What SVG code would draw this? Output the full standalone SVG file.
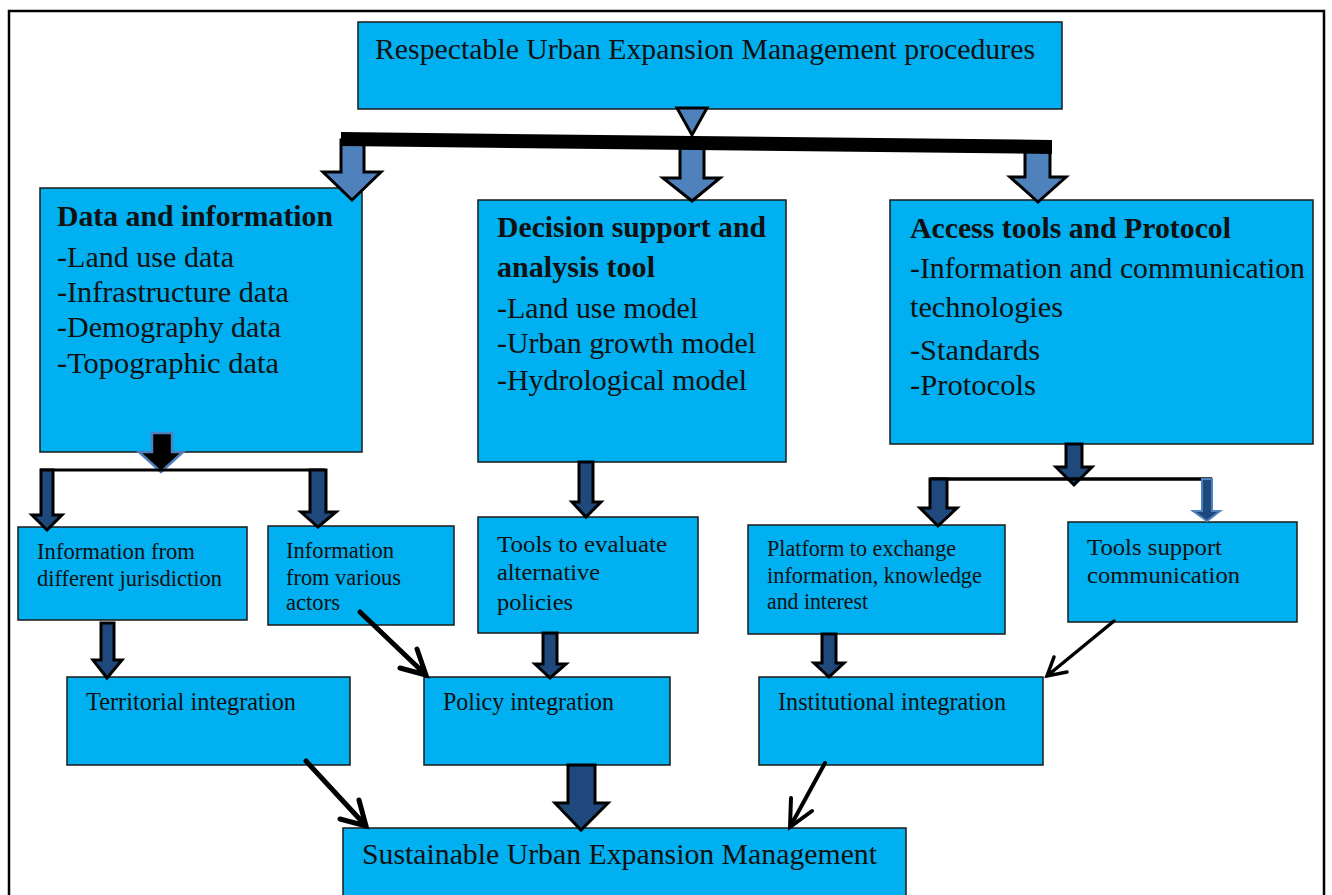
<svg xmlns="http://www.w3.org/2000/svg" width="1332" height="895" viewBox="0 0 1332 895">
<style>
.box{fill:#00b0f0;stroke:#1a1a1a;stroke-width:1.5}
.t30{font-family:"Liberation Serif","Times New Roman",serif;font-size:30px;fill:#111}
.b30{font-family:"Liberation Serif","Times New Roman",serif;font-size:30px;font-weight:bold;fill:#111}
.t22{font-family:"Liberation Serif","Times New Roman",serif;font-size:23px;fill:#111}
.t24{font-family:"Liberation Serif","Times New Roman",serif;font-size:25px;fill:#111}
.blk{fill:#4f81bd;stroke:#000;stroke-width:3;stroke-linejoin:miter}
.dk{fill:#1f497d;stroke:#000;stroke-width:3;stroke-linejoin:miter}
.ln{fill:none;stroke:#000;stroke-linecap:round;stroke-linejoin:miter}
</style>
<rect width="1332" height="895" fill="#fff"/>
<path d="M9 900 L9 11 L1324 11 L1324 900" fill="none" stroke="#000" stroke-width="2.5"/>

<g id="top">
  <rect class="box" x="358" y="22" width="704" height="87"/>
  <text class="t30" x="375" y="59" textLength="660" lengthAdjust="spacingAndGlyphs">Respectable Urban Expansion Management procedures</text>
</g>

<g id="data">
  <rect class="box" x="40" y="188" width="322" height="264"/>
  <text class="b30" x="57" y="226" textLength="276" lengthAdjust="spacingAndGlyphs">Data and information</text>
  <text class="t30" x="57" y="267" textLength="177" lengthAdjust="spacingAndGlyphs">-Land use data</text>
  <text class="t30" x="57" y="302" textLength="232" lengthAdjust="spacingAndGlyphs">-Infrastructure data</text>
  <text class="t30" x="57" y="337" textLength="224" lengthAdjust="spacingAndGlyphs">-Demography data</text>
  <text class="t30" x="57" y="373" textLength="222" lengthAdjust="spacingAndGlyphs">-Topographic data</text>
</g>

<g id="decision">
  <rect class="box" x="478" y="200" width="308" height="262"/>
  <text class="b30" x="497" y="237" textLength="269" lengthAdjust="spacingAndGlyphs">Decision support and</text>
  <text class="b30" x="497" y="277" textLength="158" lengthAdjust="spacingAndGlyphs">analysis tool</text>
  <text class="t30" x="497" y="318" textLength="201" lengthAdjust="spacingAndGlyphs">-Land use model</text>
  <text class="t30" x="497" y="353" textLength="259" lengthAdjust="spacingAndGlyphs">-Urban growth model</text>
  <text class="t30" x="497" y="390" textLength="250" lengthAdjust="spacingAndGlyphs">-Hydrological model</text>
</g>

<g id="access">
  <rect class="box" x="890" y="200" width="423" height="244"/>
  <text class="b30" x="910" y="238" textLength="321" lengthAdjust="spacingAndGlyphs">Access tools and Protocol</text>
  <text class="t30" x="910" y="278" textLength="395" lengthAdjust="spacingAndGlyphs">-Information and communication</text>
  <text class="t30" x="910" y="317" textLength="153" lengthAdjust="spacingAndGlyphs">technologies</text>
  <text class="t30" x="910" y="360" textLength="130" lengthAdjust="spacingAndGlyphs">-Standards</text>
  <text class="t30" x="910" y="395" textLength="126" lengthAdjust="spacingAndGlyphs">-Protocols</text>
</g>

<g id="info-jurisdiction">
  <rect class="box" x="18" y="527" width="229" height="93"/>
  <text class="t22" x="37" y="559" textLength="158" lengthAdjust="spacingAndGlyphs">Information from</text>
  <text class="t22" x="37" y="586" textLength="185" lengthAdjust="spacingAndGlyphs">different jurisdiction</text>
</g>

<g id="info-actors">
  <rect class="box" x="268" y="526" width="186" height="99"/>
  <text class="t22" x="286" y="558" textLength="108" lengthAdjust="spacingAndGlyphs">Information</text>
  <text class="t22" x="286" y="585" textLength="115" lengthAdjust="spacingAndGlyphs">from various</text>
  <text class="t22" x="286" y="610" textLength="54" lengthAdjust="spacingAndGlyphs">actors</text>
</g>

<g id="tools-evaluate">
  <rect class="box" x="478" y="517" width="220" height="116"/>
  <text class="t22" x="497" y="552" textLength="170" lengthAdjust="spacingAndGlyphs">Tools to evaluate</text>
  <text class="t22" x="497" y="580" textLength="103" lengthAdjust="spacingAndGlyphs">alternative</text>
  <text class="t22" x="497" y="610" textLength="76" lengthAdjust="spacingAndGlyphs">policies</text>
</g>

<g id="platform">
  <rect class="box" x="748" y="525" width="257" height="109"/>
  <text class="t22" x="767" y="556" textLength="189" lengthAdjust="spacingAndGlyphs">Platform to exchange</text>
  <text class="t22" x="767" y="583" textLength="215" lengthAdjust="spacingAndGlyphs">information, knowledge</text>
  <text class="t22" x="767" y="609" textLength="101" lengthAdjust="spacingAndGlyphs">and interest</text>
</g>

<g id="tools-support">
  <rect class="box" x="1068" y="522" width="229" height="100"/>
  <text class="t22" x="1087" y="555" textLength="135" lengthAdjust="spacingAndGlyphs">Tools support</text>
  <text class="t22" x="1087" y="583" textLength="153" lengthAdjust="spacingAndGlyphs">communication</text>
</g>

<g id="territorial">
  <rect class="box" x="67" y="677" width="283" height="88"/>
  <text class="t24" x="86" y="710" textLength="210" lengthAdjust="spacingAndGlyphs">Territorial integration</text>
</g>

<g id="policy">
  <rect class="box" x="424" y="677" width="246" height="88"/>
  <text class="t24" x="443" y="710" textLength="171" lengthAdjust="spacingAndGlyphs">Policy integration</text>
</g>

<g id="institutional">
  <rect class="box" x="759" y="677" width="284" height="88"/>
  <text class="t24" x="778" y="710" textLength="228" lengthAdjust="spacingAndGlyphs">Institutional integration</text>
</g>

<g id="sustainable">
  <rect class="box" x="343" y="828" width="563" height="80"/>
  <text class="t30" x="362" y="864" textLength="515" lengthAdjust="spacingAndGlyphs">Sustainable Urban Expansion Management</text>
</g>

<g id="connectors">
  <polygon class="blk" points="677,108 707,108 692,135"/>
  <path class="blk" d="M341 140 L364 140 L364 172 L381 172 L352 200 L323 172 L341 172 Z"/>
  <path class="blk" d="M680 145 L704 145 L704 178 L720 178 L692 201 L663 178 L680 178 Z"/>
  <path class="blk" d="M1025 147 L1050 147 L1050 177 L1066 177 L1038 202 L1010 177 L1025 177 Z"/>
  <polygon points="341,132 1052,140 1052,154 341,146" fill="#000"/>

  <path d="M152 433 L172 433 L172 452 L183 452 L161 472 L139 452 L152 452 Z" fill="#000" stroke="#4f81bd" stroke-width="2.5"/>
  <line x1="40" y1="470" x2="325" y2="470" stroke="#000" stroke-width="3"/>
  <path class="dk" d="M41 470 L53 470 L53 515 L62 515 L47 530 L32 515 L41 515 Z"/>
  <path class="dk" d="M310 470 L326 470 L326 512 L336 512 L318 527 L301 512 L310 512 Z"/>

  <path class="dk" d="M579 462 L593 462 L593 502 L601 502 L586 517 L572 502 L579 502 Z"/>

  <path class="dk" d="M1066 444 L1082 444 L1082 467 L1092 467 L1074 485 L1056 467 L1066 467 Z"/>
  <line x1="930" y1="479" x2="1212" y2="479" stroke="#000" stroke-width="3.5"/>
  <path class="dk" d="M930 479 L947 479 L947 508 L957 508 L938 526 L920 508 L930 508 Z"/>
  <path d="M1202 479 L1212 479 L1212 511 L1220 511 L1207 521 L1193 511 L1202 511 Z" fill="#1f497d" stroke="#4f81bd" stroke-width="2"/>

  <path class="dk" d="M101 623 L114 623 L114 660 L122 660 L107 678 L93 660 L101 660 Z"/>
  <path class="dk" d="M543 633 L557 633 L557 664 L566 664 L550 678 L535 664 L543 664 Z"/>
  <path class="dk" d="M822 634 L836 634 L836 663 L844 663 L829 677 L814 663 L822 663 Z"/>
  <path class="dk" d="M568 765 L595 765 L595 803 L608 803 L581 830 L555 803 L568 803 Z"/>

  <path class="ln" stroke-width="5" d="M360 612 L426 675 M417 649 L426 675 L400 668"/>
  <path class="ln" stroke-width="3.5" d="M1114 621 L1047 676 M1054 657 L1047 676 L1067 672"/>
  <path class="ln" stroke-width="5" d="M306 761 L366 826 M359 800 L366 826 L340 819"/>
  <path class="ln" stroke-width="4" d="M825 763 L790 827 M791 798 L790 827 L812 811"/>
</g>
</svg>
